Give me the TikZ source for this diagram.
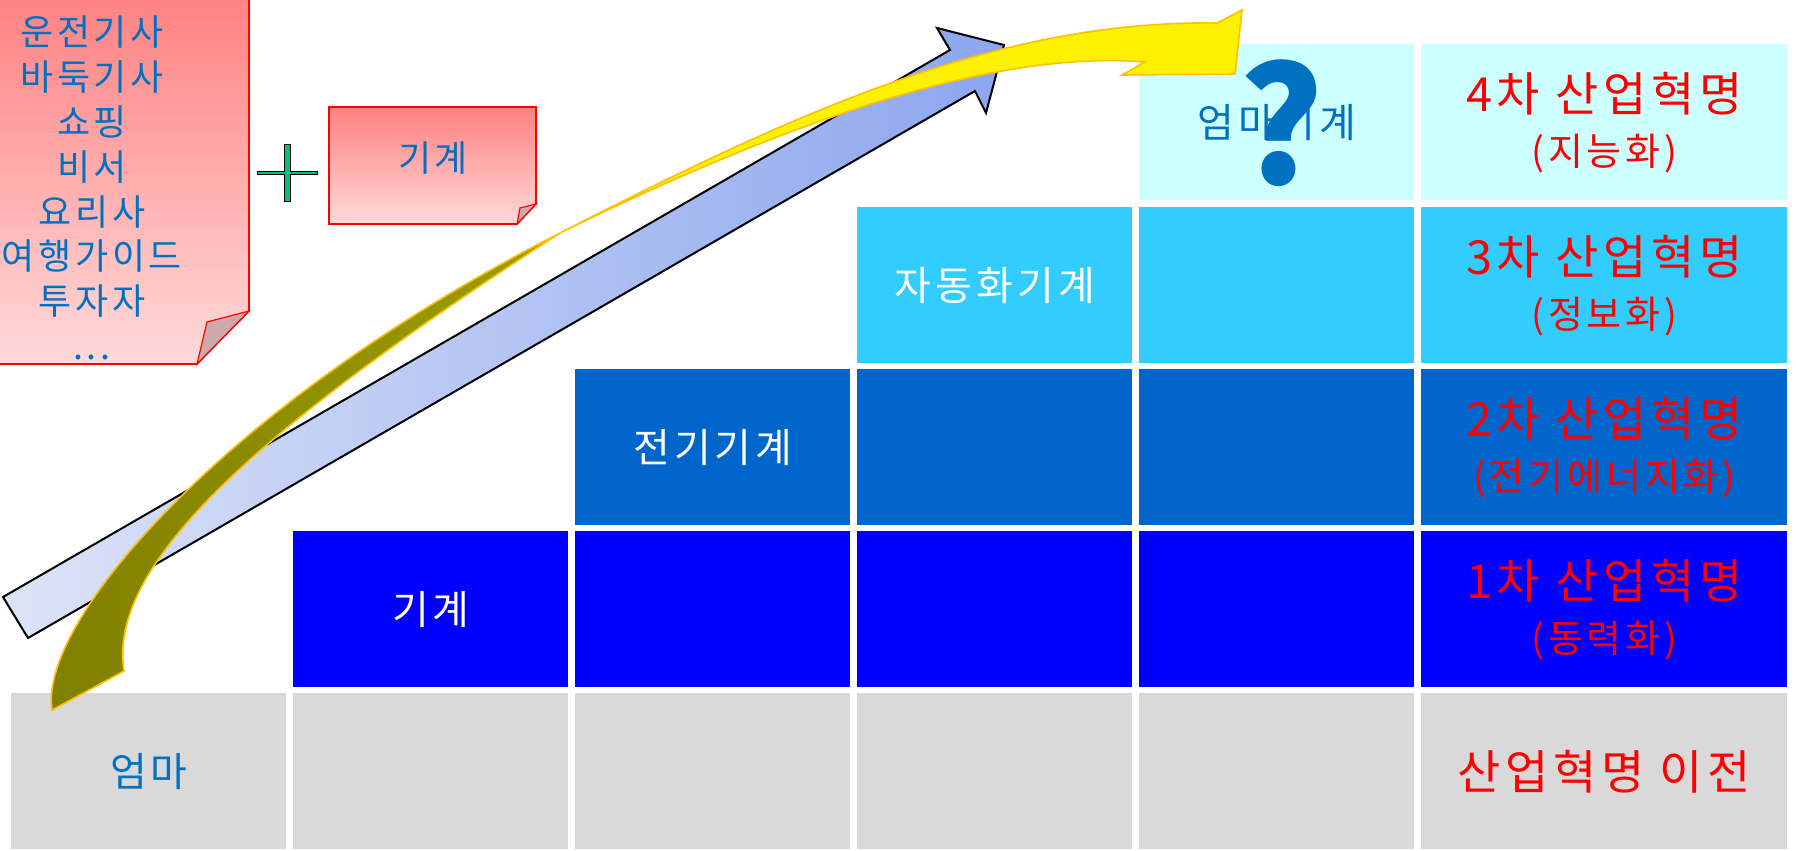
\documentclass[tikz,border=0pt]{standalone}
\usepackage{fontspec}
\setmainfont{Noto Sans CJK KR}[LetterSpace=10]
\definecolor{cellgray}{HTML}{D9D9D9}
\definecolor{rowone}{HTML}{0000FF}
\definecolor{rowtwo}{HTML}{0066CC}
\definecolor{rowthree}{HTML}{33CCFF}
\definecolor{rowfour}{HTML}{CCFFFF}
\definecolor{textblue}{HTML}{0070C0}
\definecolor{notetop}{HTML}{FF8080}
\definecolor{notebottom}{HTML}{FFDADA}
\definecolor{flap}{HTML}{CDA9A9}
\definecolor{plusgreen}{HTML}{00C08A}
\definecolor{arrowtail}{HTML}{DDE4F8}
\definecolor{arrowhead}{HTML}{8CA6EE}
\definecolor{olivedark}{HTML}{7F7F00}
\definecolor{olivelight}{HTML}{9E9E00}
\definecolor{ribbonedge}{HTML}{FFC000}
\newcommand{\stagetext}[2]{{\fontsize{23.5}{28}\selectfont #1}\\[3pt]{\fontsize{19}{22}\selectfont #2}}

\begin{document}
\begin{tikzpicture}[x=0.5pt, y=-0.5pt,
  cell/.style={anchor=north west, inner sep=0pt, minimum width=137.5pt,
    minimum height=78pt, font=\fontsize{20}{24}\selectfont},
  stage/.style={cell, minimum width=183pt, text=red, align=center,
    font=\fontsize{19}{24}\selectfont},
  note/.style={top color=notetop, bottom color=notebottom, draw=red, line width=0.8pt},
  notetext/.style={text=textblue, align=center, font=\fontsize{18}{22.4}\selectfont}]
  \useasboundingbox (0,0) rectangle (1796,851);

  % before the revolution
  \node[cell, fill=cellgray, text=textblue] (mom) at (11,693) {엄마};
  \node[cell, fill=cellgray] (r0c2) at (293,693) {};
  \node[cell, fill=cellgray] (r0c3) at (575,693) {};
  \node[cell, fill=cellgray] (r0c4) at (857,693) {};
  \node[cell, fill=cellgray] (r0c5) at (1139,693) {};
  \node[stage, fill=cellgray, font=\fontsize{23.5}{28}\selectfont] (before) at (1421,693) {산업혁명 이전};

  % 1st
  \node[cell, fill=rowone, text=white] (machine) at (293,531) {기계};
  \node[cell, fill=rowone] (r1c3) at (575,531) {};
  \node[cell, fill=rowone] (r1c4) at (857,531) {};
  \node[cell, fill=rowone] (r1c5) at (1139,531) {};
  \node[stage, fill=rowone] (first) at (1421,531) {\stagetext{1차 산업혁명}{(동력화)}};

  % 2nd
  \node[cell, fill=rowtwo, text=white] (electric) at (575,369) {전기기계};
  \node[cell, fill=rowtwo] (r2c4) at (857,369) {};
  \node[cell, fill=rowtwo] (r2c5) at (1139,369) {};
  \node[stage, fill=rowtwo] (second) at (1421,369) {\stagetext{2차 산업혁명}{(전기에너지화)}};

  % 3rd
  \node[cell, fill=rowthree, text=white] (auto) at (857,207) {자동화기계};
  \node[cell, fill=rowthree] (r3c5) at (1139,207) {};
  \node[stage, fill=rowthree] (third) at (1421,207) {\stagetext{3차 산업혁명}{(정보화)}};

  % 4th
  \node[cell, fill=rowfour, text=textblue] (mommachine) at (1139,44) {엄마기계};
  \node[stage, fill=rowfour] (fourth) at (1421,44) {\stagetext{4차 산업혁명}{(지능화)}};

  % notes
  \shadedraw[note] (-10,-10) -- (249,-10) -- (249,311) -- (197,364) -- (-10,364) -- cycle;
  \filldraw[fill=flap, draw=red, line width=0.6pt] (249,311) -- (207,322) -- (197,364) -- cycle;
  \node[notetext] (jobs) at (92,188) {운전기사\\바둑기사\\쇼핑\\비서\\요리사\\여행가이드\\투자자\\...};
  \filldraw[fill=plusgreen, draw=black, line width=0.5pt] (284,144) -- (290,144) -- (290,171)
    -- (317,171) -- (317,174) -- (290,174) -- (290,201) -- (284,201) -- (284,174)
    -- (257,174) -- (257,171) -- (284,171) -- cycle;
  \shadedraw[note] (329,107) -- (536,107) -- (536,204) -- (517,224) -- (329,224) -- cycle;
  \filldraw[fill=flap, draw=red, line width=0.6pt] (536,204) -- (520,208) -- (517,224) -- cycle;
  \node[notetext] (plusmachine) at (433,158) {기계};

  % straight arrow
  \shadedraw[left color=arrowtail, right color=arrowhead, draw=black, line width=1pt]
    (3,597) -- (950,50) -- (937,28) -- (1004,45) -- (986,113) -- (975,91) -- (28,638) -- cycle;

  % curved ribbon arrow
  \shadedraw[left color=olivedark, right color=olivelight, draw=ribbonedge, line width=0.8pt]
    (52,710) .. controls (38,620) and (230,400) .. (560,233)
    .. controls (240,440) and (108,570) .. (124,671) -- cycle;
  \filldraw[fill=yellow, draw=ribbonedge, line width=0.8pt]
    (560,233) .. controls (800,110) and (1000,20) .. (1217,23) -- (1242,10) -- (1235,74)
    -- (1122,75) -- (1145,62) .. controls (1000,50) and (800,115) .. (560,233) -- cycle;

  \node[text=textblue, font=\bfseries\fontsize{80}{90}\selectfont] (question) at (1281,123) {?};
\end{tikzpicture}
\end{document}
